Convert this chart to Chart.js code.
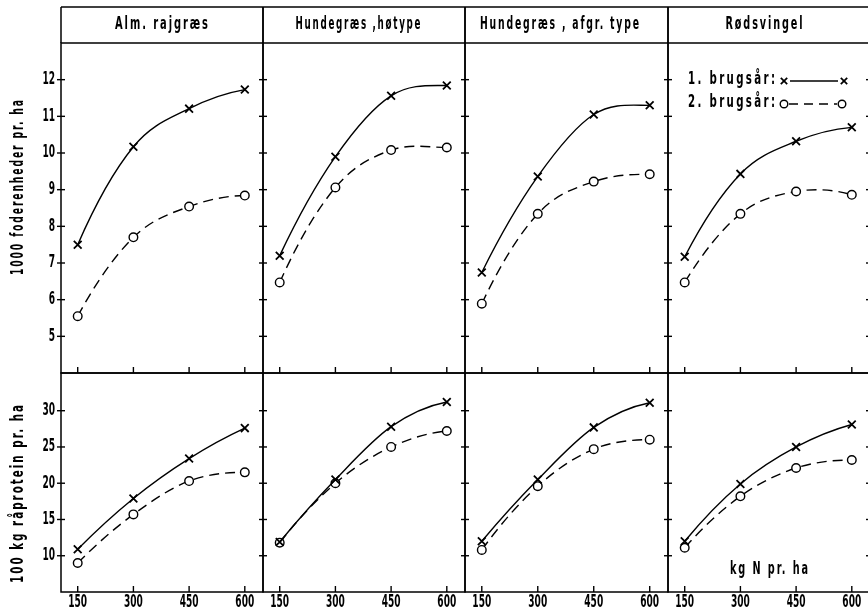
<!DOCTYPE html>
<html><head><meta charset="utf-8">
<script src="https://cdn.jsdelivr.net/npm/chart.js@4/dist/chart.umd.min.js"></script>
<style>
html,body{margin:0;padding:0;background:#fff;width:868px;height:613px;overflow:hidden;position:relative}
canvas{position:absolute}
</style></head><body>
<script>
// ---- data ----
const nLevels = [150, 300, 450, 600];
const grassNames = ['Alm. rajgræs', 'Hundegræs ,høtype', 'Hundegræs , afgr. type', 'Rødsvingel'];
// 1000 foderenheder pr. ha
const feedYear1 = [[7.5, 10.17, 11.21, 11.73], [7.2, 9.9, 11.56, 11.84], [6.74, 9.36, 11.05, 11.3], [7.17, 9.43, 10.32, 10.7]];
const feedYear2 = [[5.55, 7.7, 8.54, 8.84], [6.47, 9.06, 10.08, 10.15], [5.89, 8.34, 9.22, 9.42], [6.47, 8.34, 8.95, 8.86]];
// 100 kg råprotein pr. ha
const protYear1 = [[10.9, 17.9, 23.4, 27.6], [11.9, 20.5, 27.8, 31.2], [12.0, 20.5, 27.7, 31.1], [12.0, 19.9, 25.0, 28.1]];
const protYear2 = [[9.0, 15.7, 20.3, 21.5], [11.8, 20.0, 25.0, 27.2], [10.8, 19.6, 24.7, 26.0], [11.1, 18.2, 22.1, 23.2]];
const feedTicks = [5, 6, 7, 8, 9, 10, 11, 12];
const protTicks = [10, 15, 20, 25, 30];
const xTicks = [150, 300, 450, 600];
const yTitles = ['1000 foderenheder pr. ha', '100 kg råprotein pr. ha'];
const legendLabels = ['1. brugsår:', '2. brugsår:'];
const xTitle = 'kg N pr. ha';

// ---- layout ----
const colX = [61, 263, 465, 668, 870];
const rowY = [43, 373, 592];
const titleCenters = [161.5, 358, 559.5, 764];
const titleWidths = [93, 125, 159, 77];
const FONT = '"Liberation Sans Narrow", "DejaVu Sans Condensed", "Liberation Sans", sans-serif';

function txt(ctx, s, x, y, size, o = {}) {
  ctx.save();
  ctx.font = 'bold ' + size + 'px ' + FONT;
  const ls = o.ls || 0;
  ctx.letterSpacing = ls + 'px';
  const m = ctx.measureText(s).width - ls;
  let sx = 0.8;
  if (o.w) sx = o.w / m;
  else if (o.dw) sx = (o.dw * s.length) / m;
  const W = m * sx;
  const left = o.align === 'right' ? -W : o.align === 'left' ? 0 : -W / 2;
  ctx.translate(x, y);
  if (o.rot) ctx.rotate(o.rot);
  ctx.translate(left, 0);
  ctx.scale(sx, 1);
  ctx.textAlign = 'left';
  ctx.textBaseline = 'middle';
  ctx.fillStyle = '#000';
  ctx.fillText(s, 0, 0);
  ctx.restore();
}
function line(ctx, x1, y1, x2, y2, w, dash) {
  ctx.save();
  ctx.lineWidth = w || 1.5;
  ctx.strokeStyle = '#000';
  ctx.setLineDash(dash || []);
  ctx.beginPath(); ctx.moveTo(x1, y1); ctx.lineTo(x2, y2); ctx.stroke();
  ctx.restore();
}
function cross(ctx, x, y, r) {
  line(ctx, x - r, y - r, x + r, y + r, 1.7);
  line(ctx, x - r, y + r, x + r, y - r, 1.7);
}
function circ(ctx, x, y, r) {
  ctx.save(); ctx.lineWidth = 1.4; ctx.strokeStyle = '#000'; ctx.fillStyle = '#fff';
  ctx.beginPath(); ctx.arc(x, y, r, 0, Math.PI * 2); ctx.fill(); ctx.stroke(); ctx.restore();
}

// smooth curve through the library-placed points (parabolic end condition)
const curvePlugin = {
  id: 'curve',
  beforeDatasetsDraw(chart) {
    chart.data.datasets.forEach((ds, di) => {
      const meta = chart.getDatasetMeta(di);
      const lineEl = meta.dataset;
      const pts = meta.data;
      if (!lineEl || pts.length < 3) return;
      lineEl.updateControlPoints(chart.chartArea, 'x');
      const n = pts.length;
      const d = [];
      for (let i = 0; i < n - 1; i++) d.push((pts[i + 1].y - pts[i].y) / (pts[i + 1].x - pts[i].x));
      const m = new Array(n);
      for (let i = 1; i < n - 1; i++) m[i] = (d[i - 1] + d[i]) / 2;
      m[0] = 2 * d[0] - m[1];
      if (m[0] * d[0] < 0) m[0] = 0;
      m[n - 1] = 2 * d[n - 2] - m[n - 2];
      if (m[n - 1] * d[n - 2] < 0) m[n - 1] = 0;
      for (let i = 0; i < n; i++) {
        const p = pts[i];
        const hp = i > 0 ? (p.x - pts[i - 1].x) / 3 : 0;
        const hn = i < n - 1 ? (pts[i + 1].x - p.x) / 3 : 0;
        p.cp1x = p.x - hp; p.cp1y = p.y - m[i] * hp;
        p.cp2x = p.x + hn; p.cp2y = p.y + m[i] * hn;
      }
      lineEl._path = undefined;
    });
  }
};

const panelPlugin = {
  id: 'panel',
  afterDraw(chart, args, opts) {
    const { ctx, chartArea: a, scales: { x, y } } = chart;
    const { col, row } = opts;
    const yt = row === 0 ? feedTicks : protTicks;
    ctx.save();
    ctx.lineWidth = 1.5; ctx.strokeStyle = '#000';
    ctx.strokeRect(a.left, a.top, a.width, a.height);
    ctx.restore();
    yt.forEach(v => {
      const py = y.getPixelForValue(v);
      line(ctx, a.left - 4, py, a.left + 4, py, 1.4);
      if (col === 3) line(ctx, a.right - 4, py, a.right + 4, py, 1.4);
      if (col === 0) txt(ctx, String(v), a.left - 6, py, 17, { align: 'right', dw: 6.3 });
    });
    xTicks.forEach(v => {
      const px = x.getPixelForValue(v);
      line(ctx, px, a.bottom, px, a.bottom - 6, 1.4);
      if (row === 1) txt(ctx, String(v), px, a.bottom + 11, 17, { dw: 6.3 });
    });
    if (col === 0) {
      const cy = row === 0 ? a.top + 144.5 : a.top + 121;
      txt(ctx, yTitles[row], 18.5, cy, 17, { rot: -Math.PI / 2, ls: 3, w: row === 0 ? 175 : 178 });
    }
    if (row === 0) {
      line(ctx, a.left, 7, a.right, 7, 1.5);
      line(ctx, a.left, 7, a.left, a.top, 1.5);
      line(ctx, a.right, 7, a.right, a.top, 1.5);
      txt(ctx, grassNames[col], titleCenters[col] - colX[col] + a.left, 25, 17, { ls: 3, w: titleWidths[col] });
    }
    if (col === 3 && row === 0) {
      const lx = a.left + 20, y1 = a.top + 37, y2 = a.top + 60;
      txt(ctx, legendLabels[0], lx, y1, 17, { align: 'left', ls: 3.5, w: 87 });
      txt(ctx, legendLabels[1], lx, y2, 17, { align: 'left', ls: 3.5, w: 87 });
      line(ctx, a.left + 122, y1 + 1, a.left + 170, y1 + 1, 1.4);
      cross(ctx, a.left + 116, y1 + 1, 3.2);
      cross(ctx, a.left + 176, y1 + 1, 3.2);
      line(ctx, a.left + 121, y2 + 1, a.left + 169, y2 + 1, 1.4, [9, 6]);
      circ(ctx, a.left + 116, y2 + 1, 3.8);
      circ(ctx, a.left + 174, y2 + 1, 3.8);
    }
    if (col === 3 && row === 1) {
      txt(ctx, xTitle, a.left + 101, a.top + 197, 17, { ls: 3, w: 78 });
    }
  }
};

function makePanel(col, row) {
  const padL = col === 0 ? colX[0] : 8;
  const padR = 8;
  const padT = row === 0 ? rowY[0] : 8;
  const padB = row === 0 ? 8 : 613 - rowY[2];
  const w = colX[col + 1] - colX[col] + padL + padR;
  const h = rowY[row + 1] - rowY[row] + padT + padB;
  const cv = document.createElement('canvas');
  cv.width = w; cv.height = h;
  cv.style.left = (colX[col] - padL) + 'px';
  cv.style.top = (rowY[row] - padT) + 'px';
  cv.style.width = w + 'px'; cv.style.height = h + 'px';
  document.body.appendChild(cv);
  const s1 = row === 0 ? feedYear1[col] : protYear1[col];
  const s2 = row === 0 ? feedYear2[col] : protYear2[col];
  new Chart(cv, {
    type: 'line',
    data: {
      datasets: [
        { label: legendLabels[0], data: nLevels.map((n, i) => ({ x: n, y: s1[i] })),
          borderColor: '#000', borderWidth: 1.4, cubicInterpolationMode: 'monotone', fill: false,
          pointStyle: 'crossRot', pointRadius: 5.5, pointBorderWidth: 1.8, pointBorderColor: '#000', pointBackgroundColor: '#000' },
        { label: legendLabels[1], data: nLevels.map((n, i) => ({ x: n, y: s2[i] })),
          borderColor: '#000', borderWidth: 1.4, borderDash: [10, 6], cubicInterpolationMode: 'monotone', fill: false,
          pointStyle: 'circle', pointRadius: 4.3, pointBorderWidth: 1.4, pointBorderColor: '#000', pointBackgroundColor: '#fff' }
      ]
    },
    options: {
      responsive: false, animation: false, devicePixelRatio: 1, events: [],
      layout: { padding: { left: padL, right: padR, top: padT, bottom: padB } },
      scales: {
        x: { type: 'linear', min: 105, max: 649, display: false },
        y: { type: 'linear', min: row === 0 ? 4 : 5, max: row === 0 ? 13 : 35.2, display: false }
      },
      plugins: { legend: { display: false }, tooltip: { enabled: false }, panel: { col, row } }
    },
    plugins: [curvePlugin, panelPlugin]
  });
}
for (let r = 0; r < 2; r++) for (let c = 0; c < 4; c++) makePanel(c, r);
</script>
</body></html>
